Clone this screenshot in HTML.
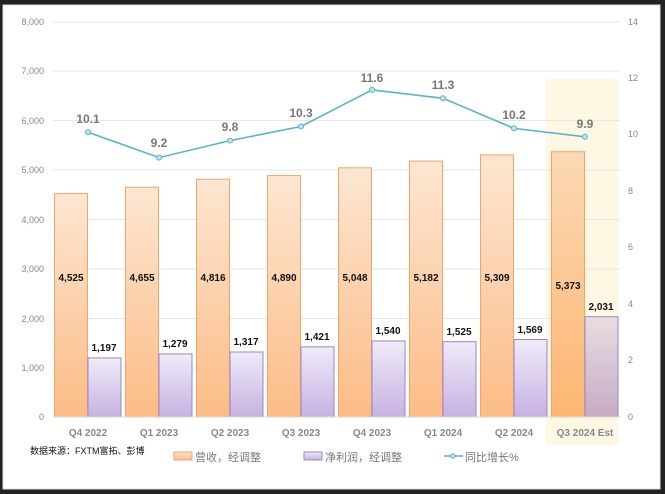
<!DOCTYPE html>
<html><head><meta charset="utf-8"><style>
body{margin:0;background:#222;}
svg{display:block;font-family:"Liberation Sans","Noto Sans CJK SC",sans-serif;}
</style></head><body>
<svg width="665" height="494" viewBox="0 0 665 494" xmlns="http://www.w3.org/2000/svg">
<defs>
<linearGradient id="go" x1="0" y1="0" x2="0" y2="1"><stop offset="0" stop-color="#fde6d2"/><stop offset="1" stop-color="#fcbc86"/></linearGradient>
<linearGradient id="gp" x1="0" y1="0" x2="0" y2="1"><stop offset="0" stop-color="#f0ebf8"/><stop offset="1" stop-color="#c6b2e2"/></linearGradient>
<linearGradient id="go2" x1="0" y1="0" x2="0" y2="1"><stop offset="0" stop-color="#fcd9b4"/><stop offset="1" stop-color="#fdb672"/></linearGradient>
<linearGradient id="gp2" x1="0" y1="0" x2="0" y2="1"><stop offset="0" stop-color="#e8dde0"/><stop offset="1" stop-color="#c6acc6"/></linearGradient>
</defs>
<rect x="0" y="0" width="665" height="494" fill="#222"/>
<rect x="3" y="5" width="657" height="484" fill="#fff" stroke="#ddd"/>
<rect x="546" y="79" width="72" height="366" fill="#fef7e4"/>
<g stroke="#e6e6e6" stroke-width="1">
<line x1="53" y1="22" x2="620" y2="22"/><line x1="53" y1="71" x2="620" y2="71"/><line x1="53" y1="120.5" x2="620" y2="120.5"/><line x1="53" y1="170" x2="620" y2="170"/><line x1="53" y1="219.5" x2="620" y2="219.5"/><line x1="53" y1="269" x2="620" y2="269"/><line x1="53" y1="318.5" x2="620" y2="318.5"/><line x1="53" y1="368" x2="620" y2="368"/>
</g>
<g font-size="9" fill="#888" text-anchor="end">
<text x="44" y="25">8,000</text><text x="44" y="74">7,000</text><text x="44" y="124">6,000</text><text x="44" y="173">5,000</text><text x="44" y="223">4,000</text><text x="44" y="272">3,000</text><text x="44" y="322">2,000</text><text x="44" y="371">1,000</text><text x="44" y="420">0</text>
</g>
<g font-size="9" fill="#888">
<text x="628" y="25">14</text><text x="628" y="81">12</text><text x="628" y="137">10</text><text x="628" y="194">8</text><text x="628" y="250">6</text><text x="628" y="307">4</text><text x="628" y="363">2</text><text x="628" y="420">0</text>
</g>
<g stroke="#f3a46a" stroke-width="1">
<rect x="54.5" y="193.6" width="33" height="223.4" fill="url(#go)"/>
<rect x="125.5" y="187.2" width="33" height="229.8" fill="url(#go)"/>
<rect x="196.5" y="179.2" width="33" height="237.8" fill="url(#go)"/>
<rect x="267.5" y="175.6" width="33" height="241.4" fill="url(#go)"/>
<rect x="338.5" y="167.8" width="33" height="249.2" fill="url(#go)"/>
<rect x="409.5" y="161.1" width="33" height="255.9" fill="url(#go)"/>
<rect x="480.5" y="154.9" width="33" height="262.1" fill="url(#go)"/>
<rect x="551.5" y="151.7" width="33" height="265.3" fill="url(#go2)"/>
</g>
<g stroke="#9c85c6" stroke-width="1">
<rect x="88" y="357.9" width="33" height="59.1" fill="url(#gp)"/>
<rect x="159" y="353.9" width="33" height="63.1" fill="url(#gp)"/>
<rect x="230" y="352" width="33" height="65" fill="url(#gp)"/>
<rect x="301" y="346.8" width="33" height="70.2" fill="url(#gp)"/>
<rect x="372" y="341" width="33" height="76" fill="url(#gp)"/>
<rect x="443" y="341.7" width="33" height="75.3" fill="url(#gp)"/>
<rect x="514" y="339.5" width="33" height="77.5" fill="url(#gp)"/>
<rect x="585" y="316.7" width="33" height="100.3" fill="url(#gp2)"/>
</g>
<line x1="53" y1="417" x2="620" y2="417" stroke="#d9d9d9"/>
<g font-size="10" font-weight="bold" fill="#111" text-anchor="middle">
<text x="71" y="281">4,525</text><text x="142" y="281">4,655</text><text x="213" y="281">4,816</text><text x="284" y="281">4,890</text><text x="355" y="281">5,048</text><text x="426" y="281">5,182</text><text x="497" y="281">5,309</text><text x="568" y="289">5,373</text>
<text x="104" y="351">1,197</text><text x="175" y="347">1,279</text><text x="246" y="345">1,317</text><text x="317" y="340">1,421</text><text x="388" y="334">1,540</text><text x="459" y="335">1,525</text><text x="530" y="333">1,569</text><text x="601" y="310">2,031</text>
</g>
<polyline points="88,132.2 159,157.6 230,140.6 301,126.5 372,89.9 443,98.3 514,128.4 585,136.8" fill="none" stroke="#5ab4c8" stroke-width="1.6"/>
<g fill="#bfe3ee" stroke="#5ab4c8" stroke-width="1">
<circle cx="88" cy="132.2" r="2.5"/><circle cx="159" cy="157.6" r="2.5"/><circle cx="230" cy="140.6" r="2.5"/><circle cx="301" cy="126.5" r="2.5"/><circle cx="372" cy="89.9" r="2.5"/><circle cx="443" cy="98.3" r="2.5"/><circle cx="514" cy="128.4" r="2.5"/><circle cx="585" cy="136.8" r="2.5"/>
</g>
<g font-size="12" font-weight="bold" fill="#777" text-anchor="middle">
<text x="88" y="123">10.1</text><text x="159" y="147">9.2</text><text x="230" y="131">9.8</text><text x="301" y="117">10.3</text><text x="372" y="82">11.6</text><text x="443" y="89">11.3</text><text x="514" y="119">10.2</text><text x="585" y="128">9.9</text>
</g>
<g font-size="10" font-weight="bold" fill="#888" text-anchor="middle">
<text x="88" y="436">Q4 2022</text><text x="159" y="436">Q1 2023</text><text x="230" y="436">Q2 2023</text><text x="301" y="436">Q3 2023</text><text x="372" y="436">Q4 2023</text><text x="443" y="436">Q1 2024</text><text x="514" y="436">Q2 2024</text><text x="585" y="436">Q3 2024 Est</text>
</g>
<text x="30" y="454" font-size="9" fill="#111">数据来源：FXTM富拓、彭博</text>
<rect x="174" y="452" width="18" height="8" fill="url(#go)" stroke="#f3a46a"/>
<text x="195" y="461" font-size="11" fill="#777">营收，经调整</text>
<rect x="304" y="452" width="18" height="8" fill="url(#gp)" stroke="#9c85c6"/>
<text x="325" y="461" font-size="11" fill="#777">净利润，经调整</text>
<line x1="444" y1="456" x2="463" y2="456" stroke="#5ab4c8" stroke-width="1.6"/>
<circle cx="453" cy="456" r="2.2" fill="#bfe3ee" stroke="#5ab4c8"/>
<text x="465" y="461" font-size="11" fill="#777">同比增长%</text>
</svg>
</body></html>
